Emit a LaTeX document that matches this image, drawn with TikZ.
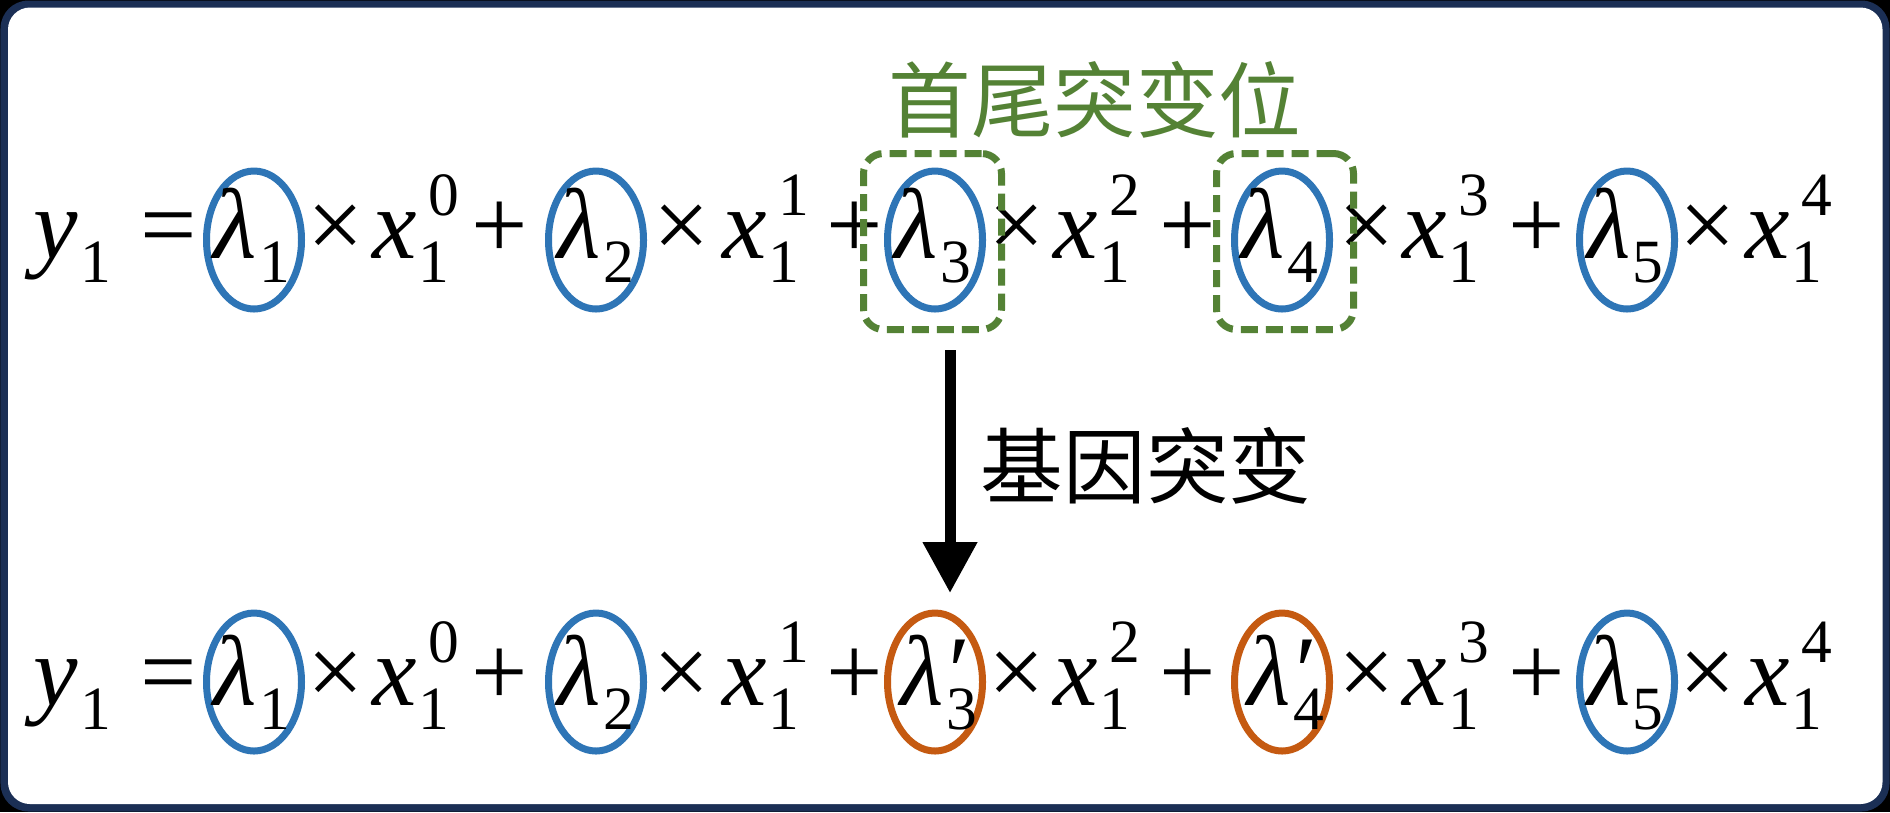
\documentclass[tikz,border=0pt]{standalone}
\usepackage{fontspec}
\setmainfont{Liberation Serif}
\newfontfamily\cjk{Noto Sans CJK SC}
\usetikzlibrary{arrows.meta,shapes.geometric}
\definecolor{navy}{HTML}{1B2F55}
\definecolor{lblue}{HTML}{2E75B6}
\definecolor{lgreen}{HTML}{548235}
\definecolor{lorange}{HTML}{C55A11}
\newcommand{\mainsz}{\fontsize{28.45}{30}\selectfont}
\newcommand{\subsz}{\fontsize{17.5}{19}\selectfont}
\newcommand{\xpow}[1]{\textit{x}\makebox[0pt][l]{\kern0.1mm\raisebox{-7.1pt}{\subsz 1}}\kern1.1mm\raisebox{12.2pt}{\subsz #1}}
\newcommand{\lam}[1]{\textit{λ}\kern0.2mm\raisebox{-7.1pt}{\subsz #1}}
\newcommand{\lamp}[1]{\textit{λ}\makebox[0pt][l]{\kern0.2mm\raisebox{-7.1pt}{\subsz #1}}\kern-0.2mm\textit{′}}
\tikzset{
  txt/.style={inner sep=0pt, font=\mainsz, anchor=base},
  txtw/.style={inner sep=0pt, font=\mainsz, anchor=base west},
  ell/.style={draw=#1, line width=0.7mm, ellipse, minimum width=9.5mm, minimum height=13.8mm, inner sep=0pt},
  gbox/.style={draw=lgreen, line width=0.7mm, dash pattern=on 1.7mm off 0.8mm, rounded corners=2mm, minimum width=13.8mm, minimum height=17.6mm, inner sep=0pt},
  cjklabel/.style={inner sep=0pt, font=\cjk\fontsize{23.5}{25}\selectfont},
}
% #1 prefix, #2 baseline, #3 ellipse centre y, #4 lambda3, #5 lambda4, #6 colour of 3 and 4
\newcommand{\eqrow}[6]{%
  \node[txtw] (#1y) at (33,#2) {\textit{y}\kern0.2mm\raisebox{-7.1pt}{\subsz 1}};
  \node[txt] (#1eq) at (169,#2) {=};
  \node[ell=lblue] (#1e1) at (254,#3) {};
  \node[txt] (#1l1) at (252,#2) {\lam{1}};
  \node[txt] (#1m1) at (336,#2) {×};
  \node[txtw] (#1x1) at (372,#2) {\xpow{0}};
  \node[txt] (#1p1) at (500,#2) {+};
  \node[ell=lblue] (#1e2) at (596,#3) {};
  \node[txt] (#1l2) at (596,#2) {\lam{2}};
  \node[txt] (#1m2) at (682,#2) {×};
  \node[txtw] (#1x2) at (722,#2) {\xpow{1}};
  \node[txt] (#1p2) at (855,#2) {+};
  \node[ell=#6] (#1e3) at (935,#3) {};
  \node[txt] (#1l3) at (933,#2) {#4};
  \node[txt] (#1m3) at (1017,#2) {×};
  \node[txtw] (#1x3) at (1053,#2) {\xpow{2}};
  \node[txt] (#1p3) at (1188,#2) {+};
  \node[ell=#6] (#1e4) at (1282,#3) {};
  \node[txt] (#1l4) at (1280,#2) {#5};
  \node[txt] (#1m4) at (1367,#2) {×};
  \node[txtw] (#1x4) at (1402,#2) {\xpow{3}};
  \node[txt] (#1p4) at (1537,#2) {+};
  \node[ell=lblue] (#1e5) at (1627,#3) {};
  \node[txt] (#1l5) at (1625,#2) {\lam{5}};
  \node[txt] (#1m5) at (1708,#2) {×};
  \node[txtw] (#1x5) at (1745,#2) {\xpow{4}};
}
\begin{document}
\begin{tikzpicture}[x=0.1mm,y=-0.1mm]
\useasboundingbox (0,0) rectangle (1890,812);
\fill[black] (0,0) rectangle (1890,812);
\fill[navy, rounded corners=2.8mm] (0.5,0.5) rectangle (1889.5,811.5);
\fill[white, rounded corners=2.2mm] (8,7.5) rectangle (1882.5,804);

\eqrow{t}{258}{240}{\lam{3}}{\lam{4}}{lblue}
\node[gbox] (g3) at (932.5,241.5) {};
\node[gbox, minimum width=13.7mm] (g4) at (1285,241.5) {};
\node[cjklabel, text=lgreen] (title) at (1095,100) {首尾突变位};

\coordinate (as) at (950,350);
\coordinate (ae) at (950,593);
\draw[line width=1.1mm, -{Triangle[width=5.2mm,length=5.1mm]}] (as) -- (ae);
\node[cjklabel] (mut) at (1146,466) {基因突变};

\eqrow{b}{705}{682}{\lamp{3}}{\lamp{4}}{lorange}
\end{tikzpicture}
\end{document}
